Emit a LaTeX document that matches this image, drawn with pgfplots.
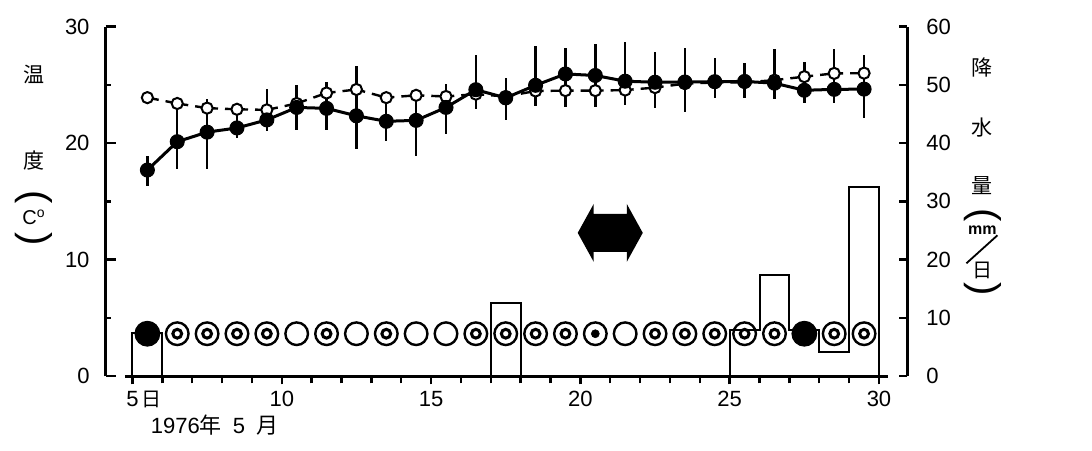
\documentclass[border=0pt]{standalone}
\usepackage{pgfplots}
\pgfplotsset{compat=1.18}
\usepackage{fontspec}
\setmainfont{Liberation Sans}
\newfontfamily\cjk{Noto Sans CJK JP}
\begin{document}
\begin{tikzpicture}
\pgfplotsset{
  base/.style={
    scale only axis, width=400.6pt, height=174.75pt,
    xmin=4.1, xmax=30.95,
    /pgf/number format/assume math mode=true,
    tick style={line width=1.2pt, black},
    axis line style={line width=1.3pt},
    clip=false,
    tick label style={font=\fontsize{11}{13}\selectfont},
  }
}
% ---------- right axis: precipitation (mm/day)
\begin{axis}[base, ymin=0, ymax=60, axis x line=none, axis y line*=right,
  ytick={0,10,...,60}, tick align=inside, major tick length=4pt,
  yticklabel style={xshift=6pt}]
\addplot[const plot mark left, line width=1pt, black] coordinates {
 (5,0) (5,7.4) (6,0) (17,12.6) (18,0) (25,8.0) (26,17.4) (27,8.0) (28,4.2) (29,32.5) (30,0)};
\node[font=\cjk\fontsize{10.5}{12}\selectfont, xshift=37.5pt] at (rel axis cs:1,0.884) {降};
\node[font=\cjk\fontsize{10.5}{12}\selectfont, xshift=37.5pt] at (rel axis cs:1,0.712) {水};
\node[font=\cjk\fontsize{10.5}{12}\selectfont, xshift=37.5pt] at (rel axis cs:1,0.546) {量};
\node[font=\fontsize{20}{20}\selectfont, rotate=-90, inner sep=0pt] at ([xshift=37.5pt]rel axis cs:1,0.461) {(};
\node[font=\bfseries\fontsize{8}{9}\selectfont, xshift=37.5pt] at (rel axis cs:1,0.418) {mm};
\node[font=\cjk\fontsize{10}{12}\selectfont, xshift=37.5pt] at (rel axis cs:1,0.303) {日};
\node[font=\fontsize{20}{20}\selectfont, rotate=-90, inner sep=0pt] at ([xshift=37.5pt]rel axis cs:1,0.248) {)};
\coordinate (S1) at (rel axis cs:1,0.323);
\coordinate (S2) at (rel axis cs:1,0.403);
\end{axis}
% ---------- x axis and weather symbols
\begin{axis}[scale only axis, width=381.2pt, height=174.75pt, at={(9.7pt,0)},
  xmin=4.75, xmax=30.3, ymin=0, ymax=30, clip=false,
  axis y line=none, axis x line*=bottom,
  axis line style={line width=1.3pt},
  tick style={line width=1.2pt, black},
  tick align=outside, major tick length=4pt, minor tick length=3.5pt,
  xtick={5,10,15,20,25,30},
  minor xtick={6,7,8,9,11,12,13,14,16,17,18,19,21,22,23,24,26,27,28,29},
  xticklabels={\makebox[0pt][l]{\hspace{-3pt}5\hspace{1.5pt}{\cjk\fontsize{10}{12}\selectfont 日}},10,15,20,25,30},
  tick label style={font=\fontsize{11}{13}\selectfont}]
% clear
\addplot[only marks, mark=o, mark size=5.65pt, mark options={line width=1.2pt, black}] coordinates {
 (10.5,3.65) (12.5,3.65) (14.5,3.65) (15.5,3.65) (21.5,3.65)};
% cloudy (double circle)
\addplot[only marks, mark=o, mark size=5.65pt, mark options={line width=1.2pt, black}] coordinates {
 (6.5,3.65) (7.5,3.65) (8.5,3.65) (9.5,3.65) (11.5,3.65) (13.5,3.65) (16.5,3.65) (17.5,3.65)
 (18.5,3.65) (19.5,3.65) (20.5,3.65) (22.5,3.65) (23.5,3.65) (24.5,3.65) (25.5,3.65) (26.5,3.65)
 (28.5,3.65) (29.5,3.65)};
\addplot[only marks, mark=o, mark size=2.2pt, mark options={line width=1.5pt, black}] coordinates {
 (6.5,3.65) (7.5,3.65) (8.5,3.65) (9.5,3.65) (11.5,3.65) (13.5,3.65) (16.5,3.65) (17.5,3.65)
 (18.5,3.65) (19.5,3.65) (22.5,3.65) (23.5,3.65) (24.5,3.65) (25.5,3.65) (26.5,3.65)
 (28.5,3.65) (29.5,3.65)};
\addplot[only marks, mark=*, mark size=2pt, mark options={line width=0.3pt, black}] coordinates {
 (20.5,3.65)};
% rain
\addplot[only marks, mark=*, mark size=6.2pt, mark options={line width=0.5pt, black, fill=black}] coordinates {
 (5.5,3.65) (27.5,3.65)};
\node[font=\fontsize{11}{13}\selectfont, yshift=-24.5pt] at (axis cs:7.75,0)
 {1976{\cjk 年}\enspace 5\enspace{\cjk 月}};
\end{axis}
% ---------- left axis: temperature
\begin{axis}[base, ymin=0, ymax=30, axis x line=none, axis y line*=left,
  ytick={0,10,20,30}, minor ytick={5,15,25}, tick align=inside,
  major tick length=5pt, minor tick length=2.5pt,
  yticklabel style={xshift=-4.5pt}]
\addplot[black, line width=1.2pt, dash pattern=on 11.5pt off 3.5pt, dash phase=5.75pt,
  mark=*, mark size=2.8pt, mark options={solid, fill=white, draw=black, line width=1pt}] coordinates {
 (5.5,23.9) (6.5,23.4) (7.5,23.0) (8.5,22.9) (9.5,22.85) (10.5,23.4) (11.5,24.3) (12.5,24.6)
 (13.5,23.9) (14.5,24.1) (15.5,24.0) (16.5,24.2) (17.5,24.0) (18.5,24.47) (19.5,24.5) (20.5,24.5)
 (21.5,24.55) (22.5,24.76) (23.5,25.1) (24.5,25.2) (25.5,25.2) (26.5,25.4) (27.5,25.7) (28.5,25.98)
 (29.5,26.0)};
\addplot[black, line width=1.5pt, mark=*, mark size=3.5pt, mark options={line width=0.5pt},
  error bars/.cd, y dir=both, y explicit, error mark=none,
  error bar style={line width=1.2pt, solid}] coordinates {
 (5.5,17.69) += (0,1.23) -= (0,1.35)
 (6.5,20.12) += (0,3.38) -= (0,2.32)
 (7.5,20.94) += (0,2.86) -= (0,3.14)
 (8.5,21.30) += (0,2.10) -= (0,0.90)
 (9.5,21.99) += (0,2.61) -= (0,0.99)
 (10.5,23.06) += (0,1.94) -= (0,1.91)
 (11.5,22.98) += (0,2.22) -= (0,1.88)
 (12.5,22.34) += (0,4.26) -= (0,2.84)
 (13.5,21.87) += (0,2.53) -= (0,1.67)
 (14.5,21.95) += (0,2.45) -= (0,3.05)
 (15.5,23.06) += (0,2.04) -= (0,2.26)
 (16.5,24.58) += (0,3.02) -= (0,1.68)
 (17.5,23.88) += (0,1.72) -= (0,1.88)
 (18.5,24.96) += (0,3.34) -= (0,1.76)
 (19.5,25.93) += (0,2.27) -= (0,2.83)
 (20.5,25.80) += (0,2.70) -= (0,2.70)
 (21.5,25.31) += (0,3.39) -= (0,2.06)
 (22.5,25.22) += (0,2.63) -= (0,2.23)
 (23.5,25.24) += (0,2.96) -= (0,2.54)
 (24.5,25.27) += (0,2.03) -= (0,1.37)
 (25.5,25.29) += (0,1.61) -= (0,1.39)
 (26.5,25.14) += (0,2.96) -= (0,1.34)
 (27.5,24.53) += (0,2.43) -= (0,1.13)
 (28.5,24.61) += (0,3.49) -= (0,1.21)
 (29.5,24.63) += (0,2.97) -= (0,2.48)};
\node[font=\cjk\fontsize{10.5}{12}\selectfont, xshift=-35.75pt] at (rel axis cs:0,0.864) {温};
\node[font=\cjk\fontsize{10.5}{12}\selectfont, xshift=-35.75pt] at (rel axis cs:0,0.618) {度};
\node[font=\fontsize{20}{20}\selectfont, rotate=-90, inner sep=0pt] at ([xshift=-35.75pt]rel axis cs:0,0.512) {(};
\node[font=\fontsize{10}{12}\selectfont, inner sep=1pt, xshift=-35.75pt] at (rel axis cs:0,0.455) {C\textsuperscript{o}};
\node[font=\fontsize{20}{20}\selectfont, rotate=-90, inner sep=0pt] at ([xshift=-35.75pt]rel axis cs:0,0.393) {)};
\coordinate (AR) at (axis cs:21,12.3);
\coordinate (SW) at (rel axis cs:0,0);
\coordinate (NE) at (rel axis cs:1,1);
\end{axis}
\draw[line width=0.9pt] ([xshift=29.5pt]S1) -- ([xshift=45pt]S2);
\fill[black, shift={(AR)}] (-16.25pt,0pt) -- (-8.25pt,14.5pt) -- (-8.25pt,9.5pt) -- (8.25pt,9.5pt)
  -- (8.25pt,14.5pt) -- (16.25pt,0pt) -- (8.25pt,-14.5pt) -- (8.25pt,-9.5pt) -- (-8.25pt,-9.5pt)
  -- (-8.25pt,-14.5pt) -- cycle;
\pgfresetboundingbox
\path ([shift={(-52.75pt,-37pt)}]SW) rectangle ([shift={(92.25pt,13.25pt)}]NE);
\end{tikzpicture}
\end{document}
